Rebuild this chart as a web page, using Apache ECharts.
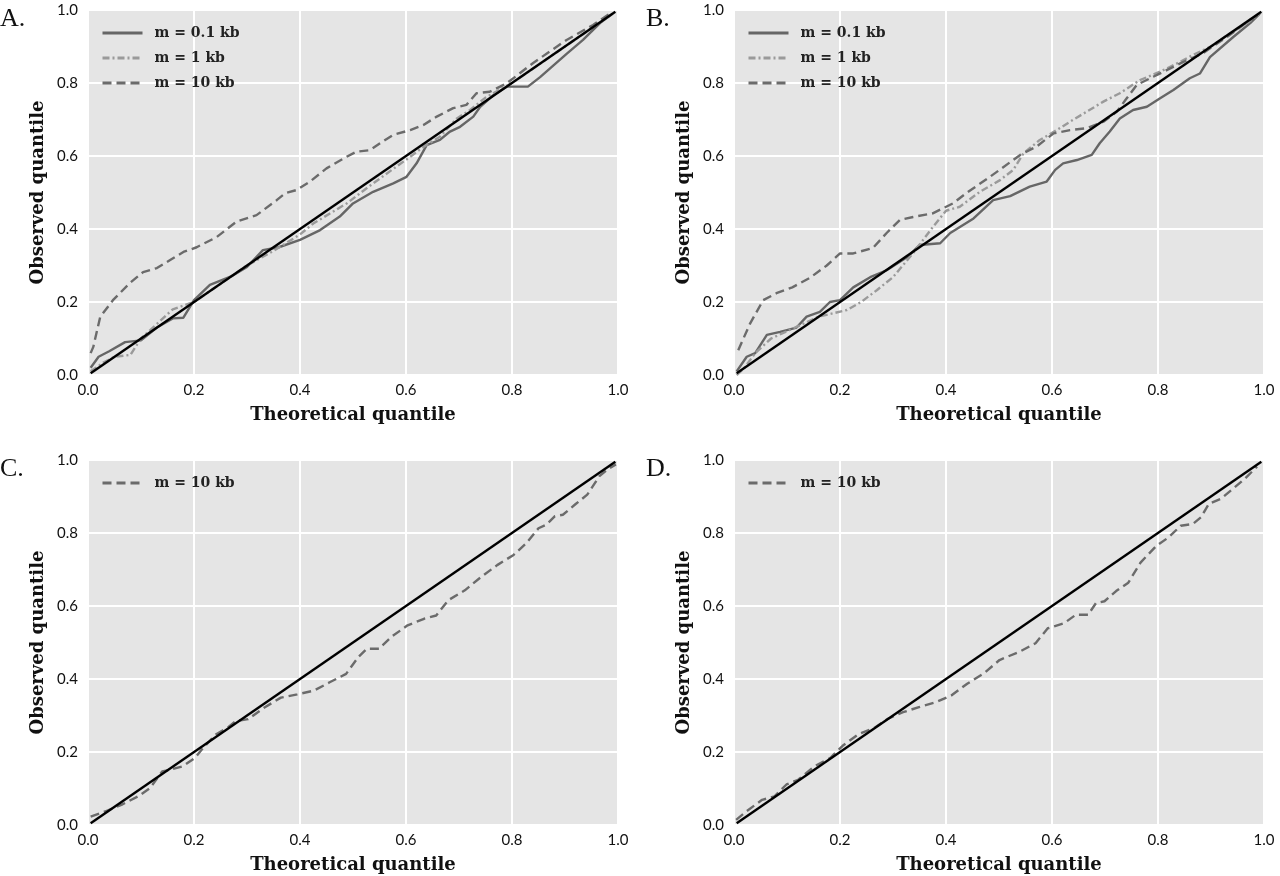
<!DOCTYPE html>
<html>
<head>
<meta charset="utf-8">
<title>QQ plots</title>
<script src="https://cdn.jsdelivr.net/npm/echarts@6/dist/echarts.min.js"></script>
<style>
  html, body { margin: 0; padding: 0; background: #fff; }
  #chart { width: 1280px; height: 876px; }
</style>
</head>
<body>
<div id="chart"></div>
<script>
// [theoretical, observed] quantile pairs
const refLine = [[0.005, 0.005], [0.995, 0.995]];

const aSolid = [[0.005,0.02],[0.02,0.05],[0.04,0.065],[0.07,0.09],[0.1,0.095],[0.13,0.13],[0.16,0.155],[0.18,0.157],
  [0.2,0.205],[0.23,0.247],[0.27,0.27],[0.3,0.296],[0.33,0.342],[0.36,0.35],[0.4,0.37],[0.438,0.397],[0.475,0.434],
  [0.5,0.47],[0.538,0.502],[0.576,0.525],[0.601,0.543],[0.62,0.58],[0.639,0.63],[0.664,0.644],[0.683,0.667],
  [0.702,0.68],[0.727,0.708],[0.74,0.735],[0.765,0.767],[0.79,0.79],[0.83,0.79],[0.853,0.816],[0.903,0.88],
  [0.934,0.918],[0.966,0.964],[0.99,0.99]];
const aDashDot = [[0.005,0.01],[0.03,0.035],[0.05,0.05],[0.08,0.055],[0.1,0.1],[0.13,0.14],[0.16,0.18],[0.2,0.2],
  [0.25,0.25],[0.3,0.3],[0.35,0.34],[0.4,0.385],[0.425,0.415],[0.488,0.47],[0.538,0.525],[0.582,0.571],
  [0.608,0.598],[0.633,0.625],[0.664,0.653],[0.696,0.703],[0.721,0.726],[0.75,0.76],[0.8,0.8],[0.85,0.85],
  [0.9,0.9],[0.95,0.95],[0.99,0.99]];
const aDashed = [[0.005,0.06],[0.01,0.077],[0.023,0.159],[0.047,0.205],[0.079,0.252],[0.104,0.282],[0.13,0.293],
  [0.155,0.315],[0.18,0.337],[0.205,0.35],[0.243,0.378],[0.28,0.42],[0.318,0.438],[0.356,0.479],[0.372,0.498],
  [0.394,0.507],[0.419,0.53],[0.45,0.566],[0.488,0.598],[0.507,0.612],[0.532,0.616],[0.551,0.635],[0.576,0.658],
  [0.608,0.671],[0.633,0.685],[0.658,0.708],[0.689,0.731],[0.714,0.74],[0.733,0.772],[0.758,0.776],[0.79,0.799],
  [0.84,0.855],[0.903,0.918],[0.953,0.959],[0.99,0.995]];

const bSolid = [[0.005,0.01],[0.024,0.05],[0.04,0.06],[0.062,0.11],[0.087,0.118],[0.118,0.13],[0.137,0.16],
  [0.162,0.173],[0.181,0.2],[0.2,0.205],[0.225,0.24],[0.257,0.268],[0.288,0.287],[0.327,0.323],[0.35,0.356],
  [0.389,0.361],[0.408,0.389],[0.452,0.429],[0.489,0.479],[0.521,0.49],[0.558,0.516],[0.59,0.53],[0.606,0.562],
  [0.621,0.58],[0.647,0.589],[0.675,0.603],[0.69,0.635],[0.709,0.667],[0.728,0.703],[0.753,0.726],[0.779,0.735],
  [0.804,0.758],[0.829,0.781],[0.86,0.813],[0.879,0.826],[0.898,0.871],[0.942,0.926],[0.974,0.964],[0.992,0.99]];
const bDashDot = [[0.005,0.0],[0.02,0.02],[0.04,0.06],[0.07,0.1],[0.1,0.12],[0.13,0.14],[0.16,0.16],[0.19,0.17],
  [0.213,0.178],[0.24,0.2],[0.27,0.233],[0.3,0.268],[0.338,0.334],[0.375,0.405],[0.4,0.45],[0.426,0.461],
  [0.464,0.502],[0.502,0.534],[0.527,0.562],[0.546,0.607],[0.577,0.644],[0.609,0.671],[0.634,0.694],
  [0.665,0.721],[0.697,0.749],[0.728,0.772],[0.766,0.808],[0.804,0.831],[0.842,0.858],[0.866,0.877],
  [0.9,0.9],[0.93,0.93],[0.974,0.97],[0.992,0.99]];
const bDashed = [[0.008,0.068],[0.03,0.14],[0.055,0.205],[0.08,0.224],[0.11,0.24],[0.143,0.266],[0.175,0.3],
  [0.2,0.333],[0.225,0.333],[0.262,0.348],[0.288,0.389],[0.313,0.425],[0.338,0.433],[0.375,0.443],[0.413,0.47],
  [0.44,0.5],[0.483,0.543],[0.54,0.603],[0.571,0.626],[0.603,0.662],[0.634,0.671],[0.665,0.676],[0.697,0.694],
  [0.722,0.721],[0.741,0.758],[0.76,0.795],[0.791,0.817],[0.823,0.84],[0.848,0.858],[0.885,0.882],[0.93,0.926],
  [0.974,0.973],[0.992,0.99]];

const cDashed = [[0.005,0.023],[0.032,0.037],[0.063,0.055],[0.094,0.078],[0.117,0.101],[0.14,0.147],[0.156,0.152],
  [0.179,0.161],[0.202,0.184],[0.217,0.211],[0.241,0.248],[0.264,0.267],[0.279,0.285],[0.302,0.29],[0.333,0.322],
  [0.364,0.349],[0.395,0.358],[0.426,0.368],[0.456,0.391],[0.487,0.414],[0.51,0.46],[0.526,0.483],[0.549,0.483],
  [0.572,0.515],[0.603,0.547],[0.634,0.565],[0.657,0.574],[0.68,0.616],[0.711,0.643],[0.742,0.68],[0.772,0.712],
  [0.803,0.74],[0.827,0.772],[0.85,0.813],[0.865,0.823],[0.881,0.846],[0.896,0.85],[0.919,0.878],[0.942,0.905],
  [0.965,0.956],[0.98,0.974],[0.996,0.988]];

const dDashed = [[0.004,0.014],[0.023,0.037],[0.053,0.069],[0.076,0.078],[0.099,0.111],[0.121,0.124],[0.152,0.161],
  [0.182,0.184],[0.205,0.217],[0.235,0.249],[0.266,0.267],[0.289,0.29],[0.319,0.309],[0.349,0.323],[0.38,0.336],
  [0.41,0.355],[0.44,0.387],[0.471,0.415],[0.501,0.452],[0.539,0.475],[0.569,0.498],[0.592,0.539],[0.623,0.553],
  [0.645,0.576],[0.668,0.576],[0.683,0.608],[0.699,0.613],[0.721,0.641],[0.744,0.664],[0.767,0.719],[0.797,0.765],
  [0.82,0.788],[0.843,0.82],[0.866,0.825],[0.881,0.843],[0.896,0.88],[0.919,0.894],[0.942,0.922],[0.964,0.949],
  [0.987,0.982]];

const panelLabels = ['A.', 'B.', 'C.', 'D.'];
const seriesNames = ['m = 0.1 kb', 'm = 1 kb', 'm = 10 kb'];

const grids = [
  { left: 88, top: 10, width: 530, height: 365 },
  { left: 734, top: 10, width: 530, height: 365 },
  { left: 88, top: 460, width: 530, height: 365 },
  { left: 734, top: 460, width: 530, height: 365 }
];

const styles = {
  'm = 0.1 kb': { color: '#666', width: 2.4, type: 'solid' },
  'm = 1 kb': { color: '#9a9a9a', width: 2.4, type: [7, 3, 2, 3] },
  'm = 10 kb': { color: '#6b6b6b', width: 2.4, type: [9, 5] }
};

function qqSeries(name, data, idx) {
  return {
    name: name, type: 'line', xAxisIndex: idx, yAxisIndex: idx, data: data,
    symbol: 'none', smooth: false, lineStyle: styles[name], itemStyle: { color: styles[name].color },
    silent: true, z: 3
  };
}
function refSeries(idx) {
  return {
    type: 'line', xAxisIndex: idx, yAxisIndex: idx, data: refLine, symbol: 'none',
    lineStyle: { color: '#000', width: 2.4 }, silent: true, z: 4
  };
}

const tickFmt = v => v.toFixed(1);
const titleFont = { fontFamily: 'DejaVu Serif', fontWeight: 'bold', fontSize: 18, color: '#111' };
const tickFont = { fontFamily: 'Lato', fontSize: 15, color: '#111' };

function xAx(i) {
  return {
    type: 'value', gridIndex: i, min: 0, max: 1, interval: 0.2,
    name: 'Theoretical quantile', nameLocation: 'middle', nameGap: 31, nameTextStyle: titleFont,
    axisLine: { show: false }, axisTick: { show: false },
    axisLabel: Object.assign({ margin: 8, formatter: tickFmt }, tickFont),
    splitLine: { lineStyle: { color: '#fff', width: 2 } }
  };
}
function yAx(i) {
  return {
    type: 'value', gridIndex: i, min: 0, max: 1, interval: 0.2,
    name: 'Observed quantile', nameLocation: 'middle', nameGap: 41, nameTextStyle: titleFont,
    axisLine: { show: false }, axisTick: { show: false },
    axisLabel: Object.assign({ margin: 10, formatter: tickFmt }, tickFont),
    splitLine: { lineStyle: { color: '#fff', width: 2 } }
  };
}

function legendFor(i, names) {
  return {
    data: names, orient: 'vertical', left: grids[i].left + 13, top: grids[i].top + 16,
    padding: 0, itemWidth: 40, itemHeight: 14, itemGap: 11, selectedMode: false,
    itemStyle: { opacity: 0 },
    lineStyle: { width: 3 },
    textStyle: { fontFamily: 'DejaVu Serif', fontSize: 14, fontWeight: 'bold', color: '#222', padding: [0, 0, 0, 7] }
  };
}

const chart = echarts.init(document.getElementById('chart'), null, { renderer: 'canvas' });

chart.setOption({
  backgroundColor: '#fff',
  animation: false,
  grid: grids.map(g => Object.assign({ show: true, backgroundColor: '#e5e5e5', borderWidth: 0 }, g)),
  xAxis: [0, 1, 2, 3].map(xAx),
  yAxis: [0, 1, 2, 3].map(yAx),
  legend: [legendFor(0, seriesNames), legendFor(1, seriesNames), legendFor(2, ['m = 10 kb']), legendFor(3, ['m = 10 kb'])],
  graphic: panelLabels.map((t, i) => ({
    type: 'text', left: i % 2 ? 646 : 0, top: i < 2 ? 6 : 456,
    style: { text: t, font: '26px "Liberation Serif"', fill: '#111' }
  })),
  series: [
    qqSeries('m = 0.1 kb', aSolid, 0), qqSeries('m = 1 kb', aDashDot, 0), qqSeries('m = 10 kb', aDashed, 0), refSeries(0),
    qqSeries('m = 0.1 kb', bSolid, 1), qqSeries('m = 1 kb', bDashDot, 1), qqSeries('m = 10 kb', bDashed, 1), refSeries(1),
    qqSeries('m = 10 kb', cDashed, 2), refSeries(2),
    qqSeries('m = 10 kb', dDashed, 3), refSeries(3)
  ]
});
</script>
</body>
</html>
